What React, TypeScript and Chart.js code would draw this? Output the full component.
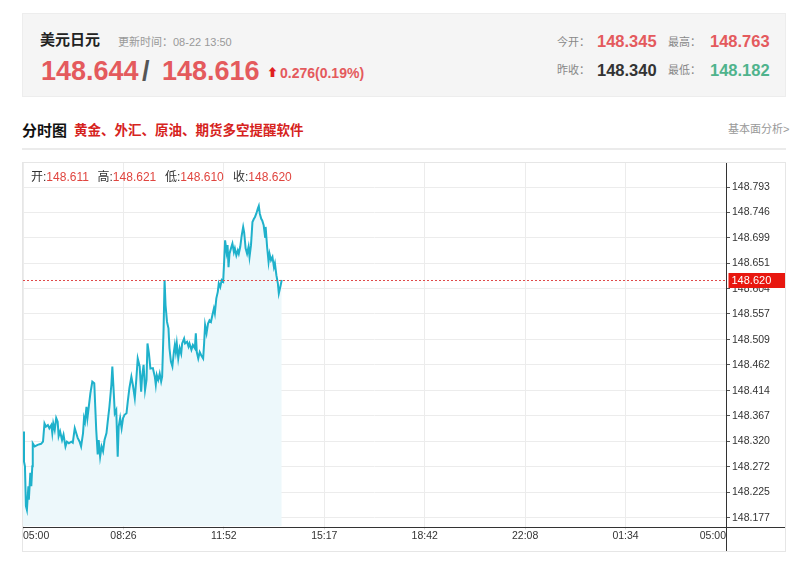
import React, { useEffect, useRef } from 'react';
import { Chart, registerables } from 'chart.js';

Chart.register(...registerables);

// minutes after 05:00
const minutes = [
  0, 2, 4, 6, 8, 11, 12, 15, 17, 19, 20, 24, 30, 37, 41, 44, 47, 51, 54, 58,
  60, 62, 65, 68, 71, 73, 76, 80, 83, 87, 90, 94, 99, 102, 106, 109, 112, 116, 119, 123,
  125, 127, 130, 132, 134, 138, 142, 146, 148, 150, 153, 155, 158, 161, 164, 167, 171, 174, 177, 181,
  183, 186, 188, 191, 194, 196, 199, 202, 205, 208, 212, 215, 218, 222, 225, 229, 232, 235, 239, 242,
  244, 247, 250, 253, 255, 258, 261, 266, 270, 272, 274, 277, 280, 283, 285, 288, 290, 292, 295, 298,
  300, 303, 306, 309, 311, 313, 315, 318, 321, 324, 326, 330, 332, 336, 339, 341, 345, 348, 352, 354,
  356, 359, 362, 365, 369, 371, 373, 376, 379, 382, 385, 388, 391, 393, 396, 399, 401, 404, 407, 410,
  412, 414, 417, 419, 421, 423, 426, 429, 432, 434, 437, 440, 442, 445, 448, 451, 453, 456, 459, 462,
  464, 467, 470, 473, 475, 478, 481, 483, 485, 488, 490, 493, 496, 497, 500, 503, 505, 508, 511, 514,
  516, 519, 522, 524, 527, 530,
];

const prices = [
  148.338, 148.282, 148.273, 148.199, 148.192, 148.236, 148.211, 148.261, 148.236, 148.273,
  148.316, 148.310, 148.313, 148.315, 148.319, 148.353, 148.347, 148.350, 148.344, 148.350,
  148.335, 148.353, 148.341, 148.363, 148.356, 148.329, 148.338, 148.322, 148.332, 148.310,
  148.319, 148.316, 148.319, 148.317, 148.344, 148.335, 148.326, 148.319, 148.310, 148.335,
  148.363, 148.356, 148.384, 148.363, 148.378, 148.409, 148.431, 148.428, 148.384, 148.341,
  148.295, 148.322, 148.291, 148.310, 148.301, 148.322, 148.335, 148.360, 148.384, 148.425,
  148.459, 148.409, 148.372, 148.378, 148.291, 148.347, 148.363, 148.344, 148.363, 148.369,
  148.372, 148.397, 148.419, 148.440, 148.425, 148.400, 148.434, 148.474, 148.459, 148.412,
  148.440, 148.462, 148.415, 148.434, 148.502, 148.483, 148.455, 148.456, 148.440, 148.425,
  148.443, 148.434, 148.446, 148.431, 148.440, 148.530, 148.620, 148.573, 148.542, 148.530,
  148.493, 148.468, 148.459, 148.486, 148.499, 148.486, 148.502, 148.474, 148.493, 148.483,
  148.502, 148.511, 148.502, 148.505, 148.496, 148.502, 148.490, 148.499, 148.493, 148.521,
  148.486, 148.474, 148.486, 148.480, 148.474, 148.502, 148.536, 148.521, 148.539, 148.545,
  148.542, 148.555, 148.567, 148.558, 148.586, 148.598, 148.614, 148.607, 148.620, 148.617,
  148.654, 148.694, 148.672, 148.685, 148.644, 148.669, 148.679, 148.688, 148.672, 148.679,
  148.666, 148.675, 148.669, 148.682, 148.703, 148.719, 148.709, 148.679, 148.669, 148.682,
  148.663, 148.685, 148.728, 148.734, 148.737, 148.744, 148.753, 148.758, 148.744, 148.734,
  148.731, 148.722, 148.700, 148.719, 148.682, 148.654, 148.669, 148.657, 148.663, 148.644,
  148.651, 148.629, 148.614, 148.595, 148.607, 148.620,
];

const xTickLabels = ['05:00', '08:26', '11:52', '15:17', '18:42', '22:08', '01:34', '05:00'];
const yTickValues = [
  148.177, 148.225, 148.272, 148.320, 148.367, 148.414, 148.462,
  148.509, 148.557, 148.604, 148.651, 148.699, 148.746, 148.793,
];
const Y_MIN = 148.161;
const Y_MAX = 148.838;
const SPAN_MINUTES = 1440;
const lastPrice = 148.620;
const ohlcLabels = ['开', '高', '低', '收'];
const ohlcValues = ['148.611', '148.621', '148.610', '148.620'];

const FONT = '"Liberation Sans", Arial, "Noto Sans CJK SC", sans-serif';
const RED = '#e45a5d';

function T(props: { x: number; cy: number; size: number; color: string; bold?: boolean; lh?: number; children: React.ReactNode }) {
  const lh = props.lh ?? Math.round(props.size * 1.3);
  return (
    <span
      style={{
        position: 'absolute',
        left: props.x - 8,
        top: props.cy - 8 - lh / 2,
        lineHeight: lh + 'px',
        fontSize: props.size,
        color: props.color,
        fontWeight: props.bold ? 'bold' : 'normal',
        whiteSpace: 'nowrap',
      }}
    >
      {props.children}
    </span>
  );
}

export default function App() {
  const ref = useRef<HTMLCanvasElement>(null);

  useEffect(() => {
    if (!ref.current) return;
    const overlay = {
      id: 'overlay',
      afterDraw(chart: any) {
        const { ctx, chartArea, scales } = chart;
        const w = chart.width;
        const h = chart.height;
        ctx.save();
        const rx = Math.round(chartArea.right) + 0.5;
        const by = Math.round(chartArea.bottom) + 0.5;
        ctx.strokeStyle = '#333';
        ctx.lineWidth = 1;
        ctx.beginPath();
        ctx.moveTo(rx, 0);
        ctx.lineTo(rx, h);
        ctx.moveTo(0, by);
        ctx.lineTo(w, by);
        ctx.stroke();
        const py = Math.round(scales.y.getPixelForValue(lastPrice)) + 0.5;
        ctx.strokeStyle = '#e04a4a';
        ctx.setLineDash([2, 2]);
        ctx.beginPath();
        ctx.moveTo(chartArea.left, py);
        ctx.lineTo(chartArea.right, py);
        ctx.stroke();
        ctx.setLineDash([]);
        ctx.fillStyle = '#e8170f';
        ctx.fillRect(rx + 2, py - 7.5, w - rx - 2, 15);
        ctx.fillStyle = '#ffffff';
        ctx.font = '11px ' + FONT;
        ctx.textBaseline = 'middle';
        ctx.textAlign = 'left';
        ctx.fillText(lastPrice.toFixed(3), rx + 5, py + 0.5);
        ctx.restore();
      },
    };

    const chart = new Chart(ref.current, {
      type: 'line',
      data: {
        datasets: [
          {
            data: minutes.map((m, i) => ({ x: m, y: prices[i] })),
            borderColor: '#1fb1cb',
            borderWidth: 2,
            backgroundColor: '#edf8fb',
            fill: 'start',
            pointRadius: 0,
            tension: 0,
          },
        ],
      },
      options: {
        responsive: false,
        animation: false,
        events: [],
        layout: { padding: 0 },
        plugins: { legend: { display: false }, tooltip: { enabled: false } },
        scales: {
          x: {
            type: 'linear',
            min: 0,
            max: SPAN_MINUTES,
            afterBuildTicks: (scale: any) => {
              scale.ticks = xTickLabels.map((_, i) => ({ value: (SPAN_MINUTES * i) / (xTickLabels.length - 1) }));
            },
            afterFit: (scale: any) => {
              scale.height = 24.5;
              scale.paddingLeft = 0;
              scale.paddingRight = 0;
            },
            grid: { color: '#ececec', tickLength: 3, tickColor: '#d8d8d8' },
            border: { display: false },
            ticks: {
              align: 'inner',
              padding: 0,
              maxRotation: 0,
              autoSkip: false,
              color: '#333',
              font: { family: FONT, size: 10.5 },
              callback: (_v: any, i: number) => xTickLabels[i],
            },
          },
          y: {
            type: 'linear',
            position: 'right',
            min: Y_MIN,
            max: Y_MAX,
            afterBuildTicks: (scale: any) => {
              scale.ticks = yTickValues.map((v) => ({ value: v }));
            },
            afterFit: (scale: any) => {
              scale.width = 59;
              scale.paddingTop = 0;
              scale.paddingBottom = 0;
            },
            grid: { color: '#ececec', tickLength: 4, tickColor: '#555' },
            border: { display: false },
            ticks: {
              padding: 2,
              color: '#333',
              font: { family: FONT, size: 10.5 },
              callback: (v: any) => Number(v).toFixed(3),
            },
          },
        },
      },
      plugins: [overlay],
    } as any);
    return () => chart.destroy();
  }, []);

  return (
    <div style={{ position: 'relative', width: 784, height: 557, fontFamily: FONT }}>
      <div
        style={{
          position: 'absolute',
          left: 14,
          top: 5,
          width: 764,
          height: 84,
          background: '#f5f5f5',
          border: '1px solid #ededed',
          boxSizing: 'border-box',
        }}
      />
      <T x={40} cy={40} size={15} color="#222" bold>美元日元</T>
      <T x={118} cy={41.5} size={11} color="#999">更新时间：08-22 13:50</T>
      <T x={41} cy={71.5} size={27} color={RED} bold>148.644</T>
      <T x={142} cy={71.5} size={27} color="#555" bold>/</T>
      <T x={162} cy={71.5} size={27} color={RED} bold>148.616</T>
      <T x={267} cy={73} size={11} color="#e02020" bold>⬆</T>
      <T x={280} cy={73} size={14} color={RED} bold>0.276(0.19%)</T>

      <T x={557} cy={41.7} size={11} color="#888">今开：</T>
      <T x={597} cy={41.7} size={16.5} color={RED} bold>148.345</T>
      <T x={668} cy={41.7} size={11} color="#888">最高：</T>
      <T x={710} cy={41.7} size={16.5} color={RED} bold>148.763</T>
      <T x={557} cy={70} size={11} color="#888">昨收：</T>
      <T x={597} cy={70} size={16.5} color="#333" bold>148.340</T>
      <T x={668} cy={70} size={11} color="#888">最低：</T>
      <T x={710} cy={70} size={16.5} color="#4fb38c" bold>148.182</T>

      <T x={22} cy={131} size={15} color="#111" bold>分时图</T>
      <T x={74} cy={131} size={13.5} color="#d6231d" bold>黄金、外汇、原油、期货多空提醒软件</T>
      <T x={728} cy={129} size={11} color="#999">基本面分析&gt;</T>
      <div style={{ position: 'absolute', left: 14, top: 140, width: 764, height: 2, background: '#ebebeb' }} />

      <div
        style={{
          position: 'absolute',
          left: 14,
          top: 154,
          width: 764,
          height: 390,
          border: '1px solid #e6e6e6',
          boxSizing: 'border-box',
        }}
      >
        <canvas ref={ref} width={762} height={388} style={{ display: 'block', width: 762, height: 388 }} />
      </div>
      {ohlcLabels.map((lab, i) => (
        <span
          key={lab}
          style={{
            position: 'absolute',
            left: [31, 97.5, 165, 233][i] - 8,
            top: 177 - 8 - 8,
            lineHeight: '16px',
            fontSize: 12,
            whiteSpace: 'nowrap',
          }}
        >
          <span style={{ color: '#333' }}>{lab}:</span>
          <span style={{ color: '#e0453f' }}>{ohlcValues[i]}</span>
        </span>
      ))}
    </div>
  );
}
